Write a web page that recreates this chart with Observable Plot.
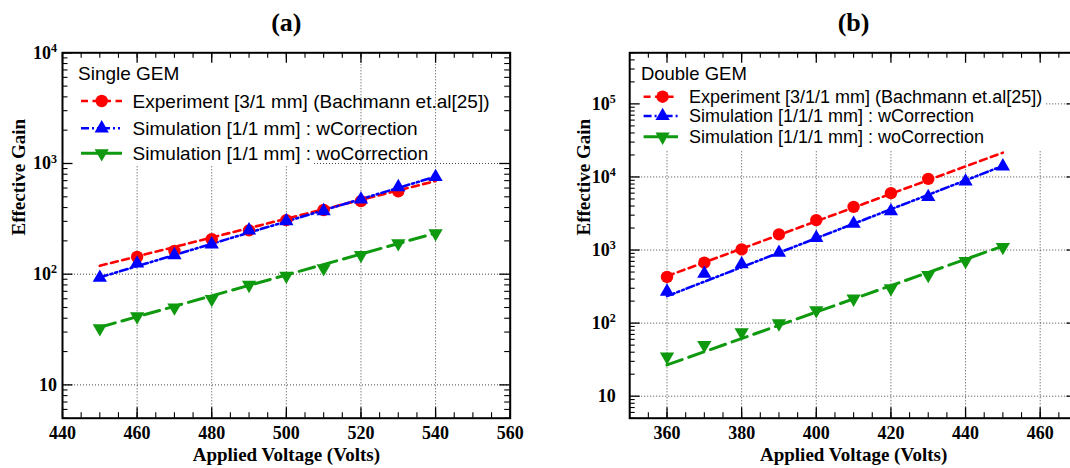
<!DOCTYPE html>
<html><head><meta charset="utf-8">
<script src="https://cdn.jsdelivr.net/npm/d3@7"></script>
<script src="https://cdn.jsdelivr.net/npm/@observablehq/plot@0.6"></script>
<style>
html,body{margin:0;padding:0;background:#fff;overflow:hidden;}
#wrap{display:flex;width:1090px;height:468px;}
#wrap svg{flex:none;display:block;}
</style></head><body><div id="wrap"></div>
<script>
// ---------------- data ----------------
const panelTitles = ["(a)", "(b)"];
const legendTitles = ["Single GEM", "Double GEM"];
const xLabel = "Applied Voltage (Volts)";
const yLabel = "Effective Gain";

const legendA = ["Experiment [3/1 mm] (Bachmann et.al[25])", "Simulation [1/1 mm] : wCorrection", "Simulation [1/1 mm] : woCorrection"];
const legendB = ["Experiment [3/1/1 mm] (Bachmann et.al[25])", "Simulation [1/1/1 mm] : wCorrection", "Simulation [1/1/1 mm] : woCorrection"];

// Panel (a): Single GEM
const voltA_exp = [460, 470, 480, 490, 500, 510, 520, 530];
const gainA_exp = [143, 162, 207, 249, 308, 380, 457, 560];
const voltA_sim = [450, 460, 470, 480, 490, 500, 510, 520, 530, 540];
const gainA_w   = [93, 125, 149, 186, 249, 302, 372, 474, 612, 757];
const gainA_wo  = [32.4, 41.5, 50, 59.6, 80, 96.6, 113, 149, 190, 234];
const fitVoltA  = [450, 540];
const fitA_exp  = [119, 695];
const fitA_w    = [93.6, 760];
const fitA_wo   = [33.2, 235];

// Panel (b): Double GEM
const voltB_exp = [360, 370, 380, 390, 400, 410, 420, 430];
const gainB_exp = [428, 671, 1020, 1640, 2570, 3900, 6000, 9400];
const voltB_sim = [360, 370, 380, 390, 400, 410, 420, 430, 440, 450];
const gainB_w   = [270, 475, 640, 920, 1470, 2290, 3400, 5330, 8700, 14000];
const gainB_wo  = [34.7, 50, 75, 99, 150, 216, 300, 455, 706, 1100];
const fitVoltB  = [360, 450];
const fitB_exp  = [440, 21500];
const fitB_w    = [234, 14200];
const fitB_wo   = [26.8, 1134];

// axes
const xDomainA = [440, 560];
const xTicksA  = [440, 460, 480, 500, 520, 540, 560];
const xDomainB = [350, 470];
const xTicksB  = [360, 380, 400, 420, 440, 460];
const yDomainA = [5, 1e4];
const yTicksA  = [10, 100, 1000, 10000];
const yDomainB = [5, 5e5];
const yTicksB  = [10, 100, 1000, 10000, 100000];

// ---------------- styles ----------------
const SERIF = "'Liberation Serif','Times New Roman',serif";
const SANS = "'Liberation Sans',Arial,Helvetica,sans-serif";
const RED = "#ff0000", BLUE = "#0000ff", GREEN = "#0f990f";
const DASH_RED = "7,4.5", DASH_BLUE = "8,3,2,3,2,3", DASH_GREEN = "16,7";

function rows(xs, ys) { return xs.map((x, i) => ({x, y: ys[i]})); }

function makePanel(cfg) {
  const {width, height, mL, mR, mT, mB} = cfg;
  const fw = width - mL - mR, fh = height - mT - mB;
  const xMinor = d3.range(cfg.xDomain[0], cfg.xDomain[1] + 0.01, 5);
  const yMinor = [];
  for (const d of [1, 10, 100, 1000, 10000, 100000]) for (let k = 2; k <= 9; k++) {
    const v = d * k; if (v >= cfg.yDomain[0] && v <= cfg.yDomain[1]) yMinor.push(v);
  }
  const fmt = d => d === 10 ? "10" : "10^" + Math.round(Math.log10(d));
  const L = cfg.legend;
  const legendMark = (index, scales, values, dims) => {
    const g = d3.create("svg:g").attr("font-family", SANS).attr("font-size", L.fontSize)
      .attr("fill", "black").attr("text-anchor", "start");
    const x0 = dims.marginLeft, y0 = dims.marginTop;
    g.append("rect").attr("x", x0 + 1).attr("y", y0 + 1).attr("width", L.boxW).attr("height", L.boxH).attr("fill", "white");
    g.append("text").attr("x", x0 + L.titleX).attr("y", y0 + L.titleY).attr("dy", "0.35em").attr("font-size", L.titleSize).text(L.title);
    L.items.forEach((it, i) => {
      const y = y0 + L.rowY[i];
      g.append("line").attr("x1", x0 + L.lineX1).attr("x2", x0 + L.lineX2).attr("y1", y).attr("y2", y)
        .attr("stroke", it.color).attr("stroke-width", it.width).attr("stroke-dasharray", it.dash);
      const sym = it.symbol === "circle" ? d3.symbolCircle : d3.symbolTriangle;
      g.append("path").attr("d", d3.symbol(sym, Math.PI * it.r * it.r)())
        .attr("transform", `translate(${x0 + L.markX},${y}) rotate(${it.rotate || 0})`).attr("fill", it.color);
      g.append("text").attr("x", x0 + L.textX).attr("y", y).attr("dy", "0.35em").text(it.label);
    });
    return g.node();
  };
  const S = cfg.series;
  const svg = Plot.plot({
    width, height, marginLeft: mL, marginRight: mR, marginTop: mT, marginBottom: mB,
    x: {domain: cfg.xDomain, axis: null},
    y: {type: "log", domain: cfg.yDomain, axis: null},
    marks: [
      Plot.gridX(cfg.xTicks, {stroke: "#333", strokeOpacity: 0.9, strokeDasharray: "1,2", strokeWidth: 1}),
      Plot.gridY(cfg.yTicks, {stroke: "#333", strokeOpacity: 0.9, strokeDasharray: "1,2", strokeWidth: 1}),
      legendMark,
      ...S.map(s => Plot.line(rows(s.fitX, s.fitY), {x: "x", y: "y", stroke: s.color, strokeWidth: s.width, strokeDasharray: s.dash})),
      ...S.map(s => Plot.dot(rows(s.px, s.py), {x: "x", y: "y", symbol: s.symbol, r: s.r, fill: s.color, rotate: s.rotate || 0})),
      Plot.tickX(xMinor, {x: d => d, insetTop: fh - 5.5, stroke: "black", strokeWidth: 1.1}),
      Plot.tickX(xMinor, {x: d => d, insetBottom: fh - 5.5, stroke: "black", strokeWidth: 1.1}),
      Plot.tickX(cfg.xTicks, {x: d => d, insetTop: fh - 10.5, stroke: "black", strokeWidth: 1.3}),
      Plot.tickX(cfg.xTicks, {x: d => d, insetBottom: fh - 10.5, stroke: "black", strokeWidth: 1.3}),
      Plot.tickY(yMinor, {y: d => d, insetRight: fw - 5.5, stroke: "black", strokeWidth: 1.1}),
      Plot.tickY(yMinor, {y: d => d, insetLeft: fw - 5.5, stroke: "black", strokeWidth: 1.1}),
      Plot.tickY(cfg.yTicks, {y: d => d, insetRight: fw - 10.5, stroke: "black", strokeWidth: 1.3}),
      Plot.tickY(cfg.yTicks, {y: d => d, insetLeft: fw - 10.5, stroke: "black", strokeWidth: 1.3}),
      Plot.frame({stroke: "black", strokeWidth: 2}),
      Plot.axisX(cfg.xTicks, {anchor: "bottom", tickSize: 0, tickPadding: 8.5, label: null,
        fontSize: 18, fontWeight: "bold", fontFamily: SERIF, fill: "black"}),
      Plot.axisY(cfg.yTicks, {anchor: "left", tickSize: 0, tickPadding: cfg.yPad, label: null, tickFormat: fmt,
        fontSize: 18, fontWeight: "bold", fontFamily: SERIF, fill: "black"}),
      Plot.text([xLabel], {text: d => d, frameAnchor: "bottom", dy: 37, lineAnchor: "middle",
        fontSize: 19, fontWeight: "bold", fontFamily: SERIF, fill: "black"}),
      Plot.text([yLabel], {text: d => d, frameAnchor: "left", dx: cfg.yLabelDx, rotate: -90, lineAnchor: "middle",
        fontSize: 19, fontWeight: "bold", fontFamily: SERIF, fill: "black"}),
      Plot.text([cfg.title], {text: d => d, frameAnchor: "top", dy: -30, lineAnchor: "middle",
        fontSize: 26, fontWeight: "bold", fontFamily: SERIF, fill: "black"})
    ]
  });
  // superscript exponents on the log-axis tick labels
  svg.querySelectorAll('g[aria-label="y-axis tick label"] text').forEach(t => {
    const m = (t.textContent || "").match(/^10\^(\d+)$/);
    if (!m) return;
    t.textContent = "";
    const ns = "http://www.w3.org/2000/svg";
    const a = document.createElementNS(ns, "tspan"); a.textContent = "10"; t.appendChild(a);
    const b = document.createElementNS(ns, "tspan"); b.textContent = m[1];
    b.setAttribute("font-size", "12"); b.setAttribute("dy", "-6.5"); t.appendChild(b);
  });
  return svg;
}

const panelA = makePanel({
  width: 535, height: 468, mL: 62, mR: 25.3, mT: 52.3, mB: 50.3,
  xDomain: xDomainA, xTicks: xTicksA, yDomain: yDomainA, yTicks: yTicksA,
  yPad: 5.5, yLabelDx: -43.7, title: panelTitles[0],
  series: [
    {px: voltA_exp, py: gainA_exp, fitX: fitVoltA, fitY: fitA_exp, color: RED, dash: DASH_RED, width: 2.6, symbol: "circle", r: 6.2},
    {px: voltA_sim, py: gainA_w, fitX: fitVoltA, fitY: fitA_w, color: BLUE, dash: DASH_BLUE, width: 2.6, symbol: "triangle", r: 5.3},
    {px: voltA_sim, py: gainA_wo, fitX: fitVoltA, fitY: fitA_wo, color: GREEN, dash: DASH_GREEN, width: 3, symbol: "triangle", r: 5.3, rotate: 180}
  ],
  legend: {
    title: legendTitles[0], fontSize: 19, titleSize: 19, boxW: 250, boxH: 112,
    titleX: 16, titleY: 21, rowY: [48.7, 76, 101], lineX1: 19, lineX2: 60, markX: 39.7, textX: 70.6,
    items: [
      {label: legendA[0], color: RED, dash: DASH_RED, width: 2.6, symbol: "circle", r: 6.2},
      {label: legendA[1], color: BLUE, dash: DASH_BLUE, width: 2.6, symbol: "triangle", r: 5.3},
      {label: legendA[2], color: GREEN, dash: "none", width: 3, symbol: "triangle", r: 5.3, rotate: 180}
    ]
  }
});

const panelB = makePanel({
  width: 545, height: 468, mL: 94.2, mR: 3, mT: 52.3, mB: 50.3,
  xDomain: xDomainB, xTicks: xTicksB, yDomain: yDomainB, yTicks: yTicksB,
  yPad: 14, yLabelDx: -46, title: panelTitles[1],
  series: [
    {px: voltB_exp, py: gainB_exp, fitX: fitVoltB, fitY: fitB_exp, color: RED, dash: DASH_RED, width: 2.6, symbol: "circle", r: 6.2},
    {px: voltB_sim, py: gainB_w, fitX: fitVoltB, fitY: fitB_w, color: BLUE, dash: DASH_BLUE, width: 2.6, symbol: "triangle", r: 5.3},
    {px: voltB_sim, py: gainB_wo, fitX: fitVoltB, fitY: fitB_wo, color: GREEN, dash: DASH_GREEN, width: 3, symbol: "triangle", r: 5.3, rotate: 180}
  ],
  legend: {
    title: legendTitles[1], fontSize: 18, titleSize: 18.5, boxW: 415, boxH: 97,
    titleX: 11.7, titleY: 21, rowY: [44.4, 63.7, 84.4], lineX1: 14.4, lineX2: 48.8, markX: 33.4, textX: 59.8,
    items: [
      {label: legendB[0], color: RED, dash: DASH_RED, width: 2.6, symbol: "circle", r: 6.2},
      {label: legendB[1], color: BLUE, dash: DASH_BLUE, width: 2.6, symbol: "triangle", r: 5.3},
      {label: legendB[2], color: GREEN, dash: DASH_GREEN, width: 3, symbol: "triangle", r: 5.3, rotate: 180}
    ]
  }
});

const wrap = document.getElementById("wrap");
wrap.appendChild(panelA);
wrap.appendChild(panelB);
</script></body></html>
